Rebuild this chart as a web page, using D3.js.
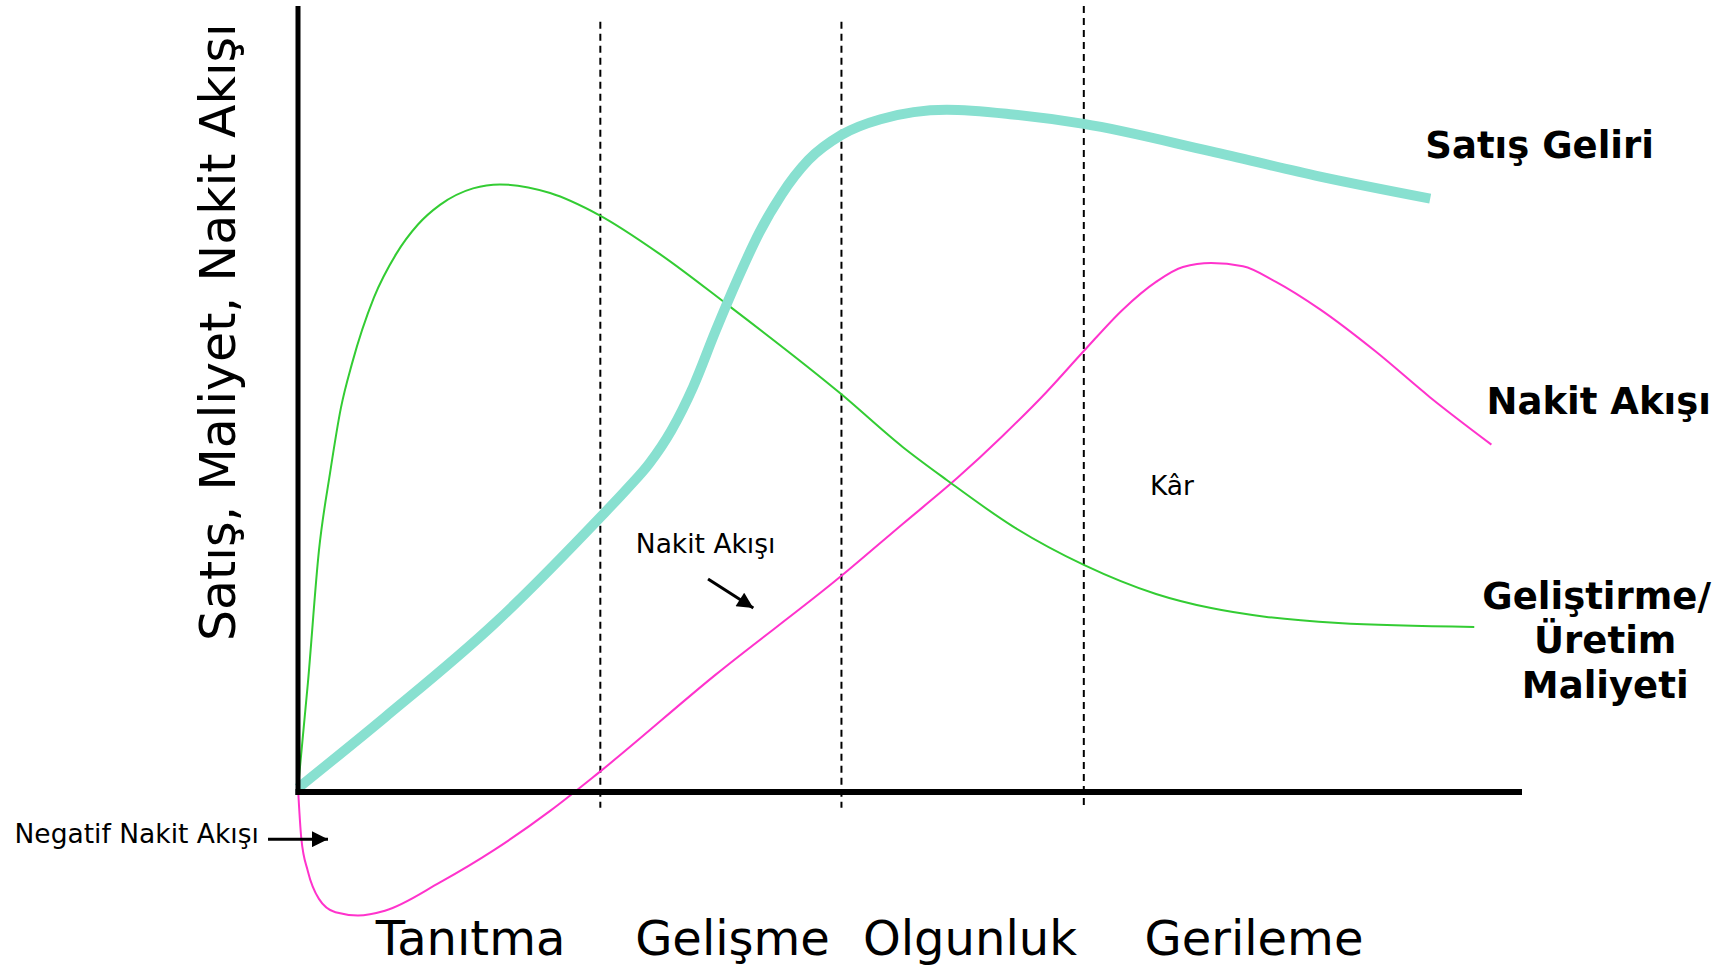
<!DOCTYPE html>
<html>
<head>
<meta charset="utf-8">
<script src="https://cdn.jsdelivr.net/npm/d3@7/dist/d3.min.js"></script>
<style>
  html, body { margin: 0; padding: 0; background: #fff; }
  svg { display: block; font-family: "DejaVu Sans", Verdana, sans-serif; }
</style>
</head>
<body>
<svg id="chart" width="1726" height="969"></svg>
<script>
// stages of the product life cycle (x = time, 0..100)
var stages = ["Tanıtma", "Gelişme", "Olgunluk", "Gerileme"];
var stageCenters = [14.1, 35.5, 54.9, 78.1];
var stageBounds = [24.7, 44.4, 64.2];
var boundTops = [98.0, 98.0, 100];

// Satış Geliri
var salesX = [0, 7.1, 16.1, 24.6, 26.9, 28.7, 30.5, 32.3, 34.1, 35.9, 37.7, 39.5, 41.7, 44.4, 47.6, 53.0, 58.4, 64.2, 74.6, 83.5, 92.5];
var salesY = [0.5, 9.5, 21.5, 34.8, 38.6, 41.8, 46.0, 51.6, 58.6, 65.2, 71.2, 76.0, 80.4, 83.6, 85.6, 86.8, 86.2, 85.0, 81.5, 78.3, 75.5];

// Geliştirme / Üretim Maliyeti
var costX = [0, 0.81, 1.71, 2.61, 3.51, 4.41, 6.2, 8.0, 9.8, 11.6, 14.3, 16.5, 20.6, 24.6, 29.6, 35.0, 44.4, 49.4, 53.0, 58.4, 64.2, 70.1, 74.6, 79.0, 85.0, 96.1];
var costY = [0.5, 13.9, 30.7, 40.5, 48.9, 54.5, 62.9, 68.4, 72.2, 74.7, 76.8, 77.3, 76.2, 73.4, 68.4, 62.1, 50.6, 43.9, 39.7, 33.8, 28.9, 25.2, 23.4, 22.3, 21.5, 21.0];

// Nakit Akışı
var cashX = [0, 0.27, 0.81, 1.71, 3.06, 4.9, 7.1, 11.6, 16.1, 20.6, 24.6, 34.1, 44.4, 49.4, 53.9, 57.5, 61.1, 64.2, 67.4, 70.1, 72.3, 74.6, 77.2, 79.9, 83.5, 88.0, 92.5, 97.5];
var cashY = [0.5, -5.9, -10.1, -13.6, -15.3, -15.7, -15.1, -11.5, -7.3, -2.4, 2.5, 14.9, 27.5, 34.1, 40.0, 45.2, 50.8, 56.1, 61.4, 64.9, 66.8, 67.3, 66.9, 64.9, 61.4, 56.1, 50.2, 44.2];

// right-hand label block for the cost curve
var costLabel = ["Geliştirme/", "Üretim", "Maliyeti"];
var costLabelX = [106.1, 106.8, 106.8];

var svg = d3.select("#chart");
var x = d3.scaleLinear().domain([0, 100]).range([298, 1522]);
var y = d3.scaleLinear().domain([0, 100]).range([792, 6]);

var defs = svg.append("defs");
defs.append("marker")
    .attr("id", "arrow")
    .attr("viewBox", "0 0 10 10")
    .attr("refX", 10).attr("refY", 5)
    .attr("markerUnits", "userSpaceOnUse")
    .attr("markerWidth", 22).attr("markerHeight", 16)
    .attr("orient", "auto")
  .append("path")
    .attr("d", "M0,0L10,5L0,10Z")
    .style("fill", "#000");

// stage separators (dashed)
svg.selectAll("line.stage")
    .data(stageBounds)
  .enter().append("line")
    .attr("class", "stage")
    .attr("x1", function(d){ return x(d); })
    .attr("x2", function(d){ return x(d); })
    .attr("y1", function(d, i){ return y(boundTops[i]); })
    .attr("y2", y(-2))
    .style("stroke", "#000")
    .style("stroke-width", 2)
    .style("stroke-dasharray", "7 5");

function series(xs, ys){
    return xs.map(function(v, i){ return [v, ys[i]]; });
}

var line = d3.line()
    .x(function(d){ return x(d[0]); })
    .y(function(d){ return y(d[1]); })
    .curve(d3.curveMonotoneX);

svg.append("path")
    .datum(series(cashX, cashY))
    .attr("d", line)
    .style("fill", "none")
    .style("stroke", "#ff33cc")
    .style("stroke-width", 2);

svg.append("path")
    .datum(series(costX, costY))
    .attr("d", line)
    .style("fill", "none")
    .style("stroke", "#33cc33")
    .style("stroke-width", 2);

svg.append("path")
    .datum(series(salesX, salesY))
    .attr("d", line)
    .style("fill", "none")
    .style("stroke", "#88e0d0")
    .style("stroke-width", 10);

// axes (plain lines, no ticks)
svg.append("line")
    .attr("x1", x(0)).attr("x2", x(0))
    .attr("y1", y(100)).attr("y2", y(0) + 3)
    .style("stroke", "#000").style("stroke-width", 5);
svg.append("line")
    .attr("x1", x(0) - 2.5).attr("x2", x(100))
    .attr("y1", y(0)).attr("y2", y(0))
    .style("stroke", "#000").style("stroke-width", 6);

// y axis title
svg.append("text")
    .attr("transform", "translate(235," + y(58.5) + ") rotate(-90)")
    .attr("text-anchor", "middle")
    .style("font-size", "49px")
    .text("Satış, Maliyet, Nakit Akışı");

// stage labels
svg.selectAll("text.stage")
    .data(stages)
  .enter().append("text")
    .attr("class", "stage")
    .attr("x", function(d, i){ return x(stageCenters[i]); })
    .attr("y", 955)
    .attr("text-anchor", "middle")
    .style("font-size", "48px")
    .text(function(d){ return d; });

// series labels
svg.append("text")
    .attr("x", x(92.1)).attr("y", y(80.7))
    .style("font-size", "37px").style("font-weight", "bold")
    .text("Satış Geliri");
svg.append("text")
    .attr("x", x(97.1)).attr("y", y(48.1))
    .style("font-size", "37px").style("font-weight", "bold")
    .text("Nakit Akışı");
svg.selectAll("text.cost")
    .data(costLabel)
  .enter().append("text")
    .attr("class", "cost")
    .attr("x", function(d, i){ return x(costLabelX[i]); })
    .attr("y", function(d, i){ return y(23.3) + i * 44.5; })
    .attr("text-anchor", "middle")
    .style("font-size", "37px").style("font-weight", "bold")
    .text(function(d){ return d; });

// annotations
svg.append("text")
    .attr("x", x(27.6)).attr("y", y(30.4))
    .style("font-size", "26.5px")
    .text("Nakit Akışı");
svg.append("line")
    .attr("x1", x(33.5)).attr("y1", y(27.1))
    .attr("x2", x(37.2)).attr("y2", y(23.4))
    .attr("marker-end", "url(#arrow)")
    .style("stroke", "#000").style("stroke-width", 3);

svg.append("text")
    .attr("x", x(69.6)).attr("y", y(37.8))
    .style("font-size", "26.5px")
    .text("Kâr");

svg.append("text")
    .attr("x", x(-3.2)).attr("y", y(-6.5))
    .attr("text-anchor", "end")
    .style("font-size", "26.5px")
    .text("Negatif Nakit Akışı");
svg.append("line")
    .attr("x1", x(-2.45)).attr("y1", y(-6.0))
    .attr("x2", x(2.45)).attr("y2", y(-6.0))
    .attr("marker-end", "url(#arrow)")
    .style("stroke", "#000").style("stroke-width", 3);
</script>
</body>
</html>
